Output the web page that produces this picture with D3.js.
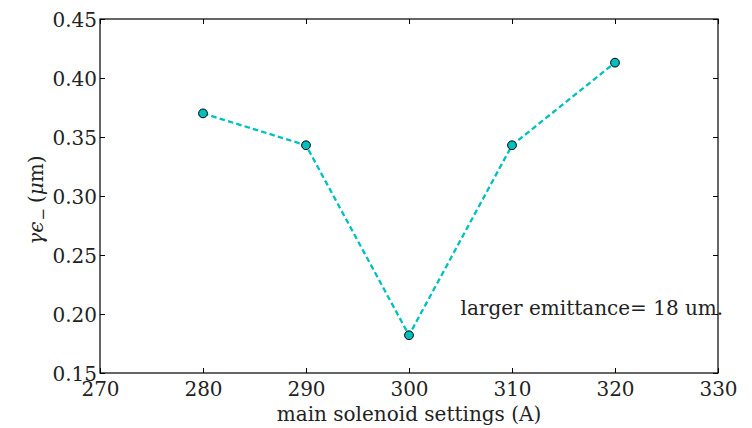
<!DOCTYPE html>
<html><head><meta charset="utf-8">
<script src="https://cdn.jsdelivr.net/npm/d3@7"></script>
<style>body{margin:0;background:#fff;}</style>
</head><body><svg id="c" width="752" height="428"></svg>
<script>
const currents = [280, 290, 300, 310, 320];
const emittance = [0.370, 0.343, 0.182, 0.343, 0.413];
const xTicks = [270, 280, 290, 300, 310, 320, 330];
const yTicks = [0.15, 0.20, 0.25, 0.30, 0.35, 0.40, 0.45];
const annotation = {x: 305, y: 0.20, text: "larger emittance= 18 um."};

const FONT = "DejaVu Serif";
const svg = d3.select("#c");
const L = 100, R = 718, T = 19, B = 373;
const x = d3.scaleLinear().domain([270, 330]).range([L, R]);
const y = d3.scaleLinear().domain([0.15, 0.45]).range([B, T]);

const fmt = d3.format(".2f");
const tl = 5;
svg.append("g").attr("transform", `translate(0,${B})`)
  .call(d3.axisBottom(x).tickValues(xTicks).tickSize(-tl).tickFormat(d3.format("d")))
  .call(g => { g.select(".domain").remove(); g.selectAll("text").attr("y", 23).attr("dy", 0); });
svg.append("g").attr("transform", `translate(0,${T})`)
  .call(d3.axisTop(x).tickValues(xTicks).tickSize(-tl).tickFormat(""))
  .call(g => g.select(".domain").remove());
svg.append("g").attr("transform", `translate(${L},0)`)
  .call(d3.axisLeft(y).tickValues(yTicks).tickSize(-tl).tickFormat(fmt))
  .call(g => { g.select(".domain").remove(); g.selectAll("text").attr("x", -3).attr("dy", "0.36em"); });
svg.append("g").attr("transform", `translate(${R},0)`)
  .call(d3.axisRight(y).tickValues(yTicks).tickSize(-tl).tickFormat(""))
  .call(g => g.select(".domain").remove());
svg.selectAll("g").attr("font-family", FONT).attr("font-size", 20);
svg.selectAll(".tick line").attr("stroke", "#000").attr("stroke-width", 1);
svg.selectAll(".tick text").attr("fill", "#222");

svg.append("rect").attr("x", L).attr("y", T).attr("width", R - L).attr("height", B - T)
  .attr("fill", "none").attr("stroke", "#000").attr("stroke-width", 1.2);

const line = d3.line().x((d, i) => x(currents[i])).y(d => y(d));
svg.append("path").datum(emittance).attr("d", line)
  .attr("fill", "none").attr("stroke", "#00BFBF").attr("stroke-width", 2.3).attr("stroke-dasharray", "5.5,3.2");
svg.selectAll("circle.pt").data(emittance).join("circle").attr("class", "pt")
  .attr("cx", (d, i) => x(currents[i])).attr("cy", d => y(d)).attr("r", 4.4)
  .attr("fill", "#00BFBF").attr("stroke", "#000").attr("stroke-width", 1);

svg.append("text").attr("x", x(annotation.x)).attr("y", y(annotation.y) + 1)
  .attr("font-family", FONT).attr("fill", "#222")
  .attr("font-size", 20).text(annotation.text);

svg.append("text").attr("x", (L + R) / 2).attr("y", 421).attr("text-anchor", "middle")
  .attr("font-family", FONT).attr("fill", "#222")
  .attr("font-size", 20).text("main solenoid settings (A)");

const yl = svg.append("text").attr("transform", `translate(43,200) rotate(-90)`)
  .attr("font-family", FONT).attr("fill", "#222")
  .attr("text-anchor", "middle").attr("font-size", 20);
yl.append("tspan").attr("font-style", "italic").text("γϵ");
yl.append("tspan").attr("font-size", 15).attr("dy", 5).attr("dx", 1).text("−");
yl.append("tspan").attr("dy", -5).attr("dx", 5).text("(");
yl.append("tspan").attr("font-style", "italic").text("μ");
yl.append("tspan").text("m)");
</script></body></html>
